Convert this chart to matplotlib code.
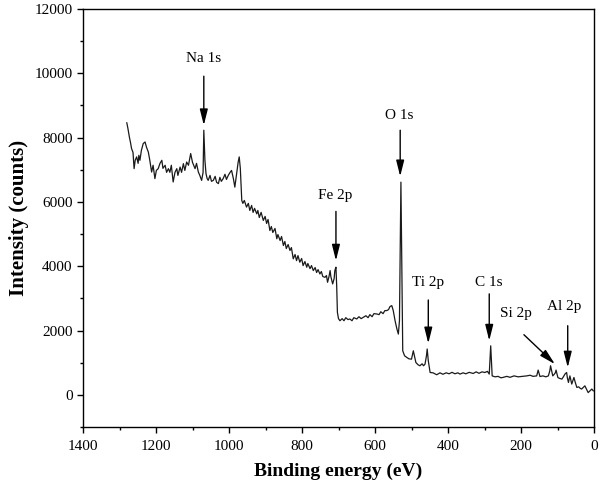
import numpy as np
import matplotlib
matplotlib.use('Agg')
import matplotlib.pyplot as plt

plt.rcParams['font.family'] = ['Liberation Serif', 'DejaVu Serif']

# binding energy (eV) and intensity (counts)
energy = [1280, 1277, 1273, 1270, 1267, 1263, 1260, 1257, 1253, 1249, 1247, 1244, 1240, 1235, 1230,
          1226, 1221, 1217, 1212, 1208, 1203, 1199, 1194, 1189, 1184, 1181, 1175, 1171, 1166, 1162,
          1158, 1153, 1148, 1143, 1140, 1134, 1130, 1125, 1121, 1116, 1111, 1105, 1100, 1093, 1089,
          1084, 1080, 1075, 1071, 1069, 1066, 1063, 1060, 1057, 1052, 1048, 1043, 1038, 1034, 1029,
          1025, 1021, 1016, 1011, 1007, 1002, 997, 993, 988, 984, 980, 975, 972, 969, 965,
          962, 958, 952, 947, 943, 938, 934, 930, 924, 921, 917, 912, 906, 901, 897,
          893, 888, 884, 880, 874, 869, 866, 860, 856, 851, 847, 843, 838, 833, 829,
          824, 819, 815, 811, 806, 801, 797, 792, 787, 784, 778, 774, 769, 764, 760,
          756, 751, 747, 743, 737, 733, 730, 726, 723, 721, 716, 712, 710, 707, 705,
          703, 700, 696, 690, 685, 680, 674, 669, 663, 658, 650, 644, 638, 632, 625,
          619, 614, 608, 603, 595, 589, 584, 578, 573, 568, 563, 559, 554, 550, 545,
          540, 536, 533, 531, 529, 527, 524, 519, 513, 507, 500, 495, 492, 488, 482,
          477, 471, 467, 463, 459, 457, 454, 449, 441, 431, 422, 414, 405, 397, 389,
          381, 373, 367, 359, 351, 342, 331, 323, 315, 307, 299, 292, 287, 285, 283,
          281, 279, 271, 263, 255, 250, 239, 230, 219, 208, 197, 184, 175, 167, 157,
          153, 148, 140, 132, 125, 121, 119, 116, 113, 110, 106, 104, 101, 99, 95,
          88, 84, 79, 75, 73, 70, 68, 66, 63, 61, 58, 55, 51, 47, 42,
          38, 34, 29, 25, 21, 16, 11, 6, 2]
counts = [8460, 8290, 8020, 7855, 7660, 7540, 7035, 7295, 7400, 7200, 7450, 7295, 7605, 7815, 7865,
          7700, 7550, 7295, 6930, 7140, 6725, 6980, 7035, 7200, 7295, 7045, 7140, 6920, 7035, 6920,
          7140, 6620, 6920, 7035, 6825, 7085, 6920, 7190, 6980, 7240, 7140, 7505, 7230, 7035, 7200,
          6930, 6825, 6670, 6920, 8230, 7295, 6880, 6730, 6670, 6825, 6640, 6670, 6795, 6610, 6570,
          6765, 6640, 6725, 6860, 6700, 6825, 6920, 6980, 6725, 6460, 6795, 7230, 7400, 7045, 6045,
          5955, 6045, 5840, 5955, 5735, 5890, 5675, 5800, 5630, 5735, 5515, 5675, 5425, 5550, 5330,
          5455, 5110, 5235, 5050, 5175, 4855, 4985, 4800, 4925, 4645, 4770, 4550, 4675, 4490, 4580,
          4230, 4365, 4175, 4330, 4125, 4240, 4020, 4145, 3970, 4085, 3925, 4020, 3865, 3960, 3805,
          3895, 3760, 3835, 3680, 3655, 3710, 3500, 3680, 3865, 3680, 3450, 3615, 3865, 3970, 3400,
          2565, 2370, 2305, 2370, 2305, 2400, 2340, 2360, 2305, 2400, 2360, 2430, 2370, 2410, 2460,
          2400, 2495, 2430, 2525, 2515, 2495, 2585, 2525, 2620, 2620, 2650, 2745, 2775, 2620, 2305,
          2050, 1890, 2305, 4490, 6615, 4490, 1370, 1215, 1165, 1120, 1110, 1370, 1215, 1005, 935,
          905, 965, 905, 955, 1215, 1425, 1060, 695, 685, 625, 685, 640, 685, 655, 700,
          655, 685, 645, 685, 655, 700, 665, 715, 670, 715, 695, 730, 645, 1060, 1525,
          1060, 590, 560, 575, 530, 540, 575, 545, 590, 560, 575, 590, 610, 575, 590,
          770, 570, 590, 560, 590, 750, 905, 750, 590, 625, 685, 770, 625, 540, 515,
          490, 560, 655, 695, 530, 385, 500, 590, 435, 335, 435, 540, 375, 230, 250,
          205, 180, 235, 280, 185, 70, 125, 180, 125]

# peak labels: text position, arrow tail, arrow tip
peak_names = ['Na 1s', 'O 1s', 'Fe 2p', 'Ti 2p', 'C 1s', 'Si 2p', 'Al 2p']
label_xy = [(1070, 10465), (533, 8695), (708, 6205), (454, 3500), (287, 3500), (214, 2515), (82, 2745)]
arrow_tail = [(1069, 9910), (531, 8230), (707, 5705), (454, 2950), (287, 3140), (192, 1870), (72, 2150)]
arrow_tip = [(1069, 8385), (531, 6795), (707, 4175), (454, 1600), (287, 1685), (107, 955), (72, 850)]

fig = plt.figure(figsize=(6, 4.92), dpi=100)
ax = fig.add_axes([83/600, 1-427/492, 511/600, 418/492])

ax.plot(energy, counts, color='#1a1a1a', lw=0.9)

for name, (tx, ty), tail, tip in zip(peak_names, label_xy, arrow_tail, arrow_tip):
    ax.text(tx, ty, name, ha='center', va='center', fontsize=11)
    ax.annotate('', xy=tip, xytext=tail,
                arrowprops=dict(arrowstyle='-|>,head_length=0.8,head_width=0.2',
                                color='k', lw=1, mutation_scale=12, shrinkA=0, shrinkB=0))

ax.set_xlim(1400, 0)
ax.set_ylim(-1000, 12000)
ax.set_xticks(range(0, 1401, 200))
ax.set_xticks(range(0, 1401, 100), minor=True)
ax.set_yticks(range(0, 12001, 2000))
ax.set_yticks(range(-1000, 12001, 1000), minor=True)
ax.tick_params(which='major', length=4.5, width=1, labelsize=11, direction='out')
ax.tick_params(which='minor', length=2.3, width=1, direction='out')
ax.tick_params(axis='x', pad=5)
ax.tick_params(axis='y', pad=3)
for s in ax.spines.values():
    s.set_linewidth(1)

ax.set_xlabel('Binding energy (eV)', fontsize=14, fontweight='bold', labelpad=7)
ax.set_ylabel('Intensity (counts)', fontsize=15, fontweight='bold', labelpad=4)

fig.savefig('out.png', dpi=100)
